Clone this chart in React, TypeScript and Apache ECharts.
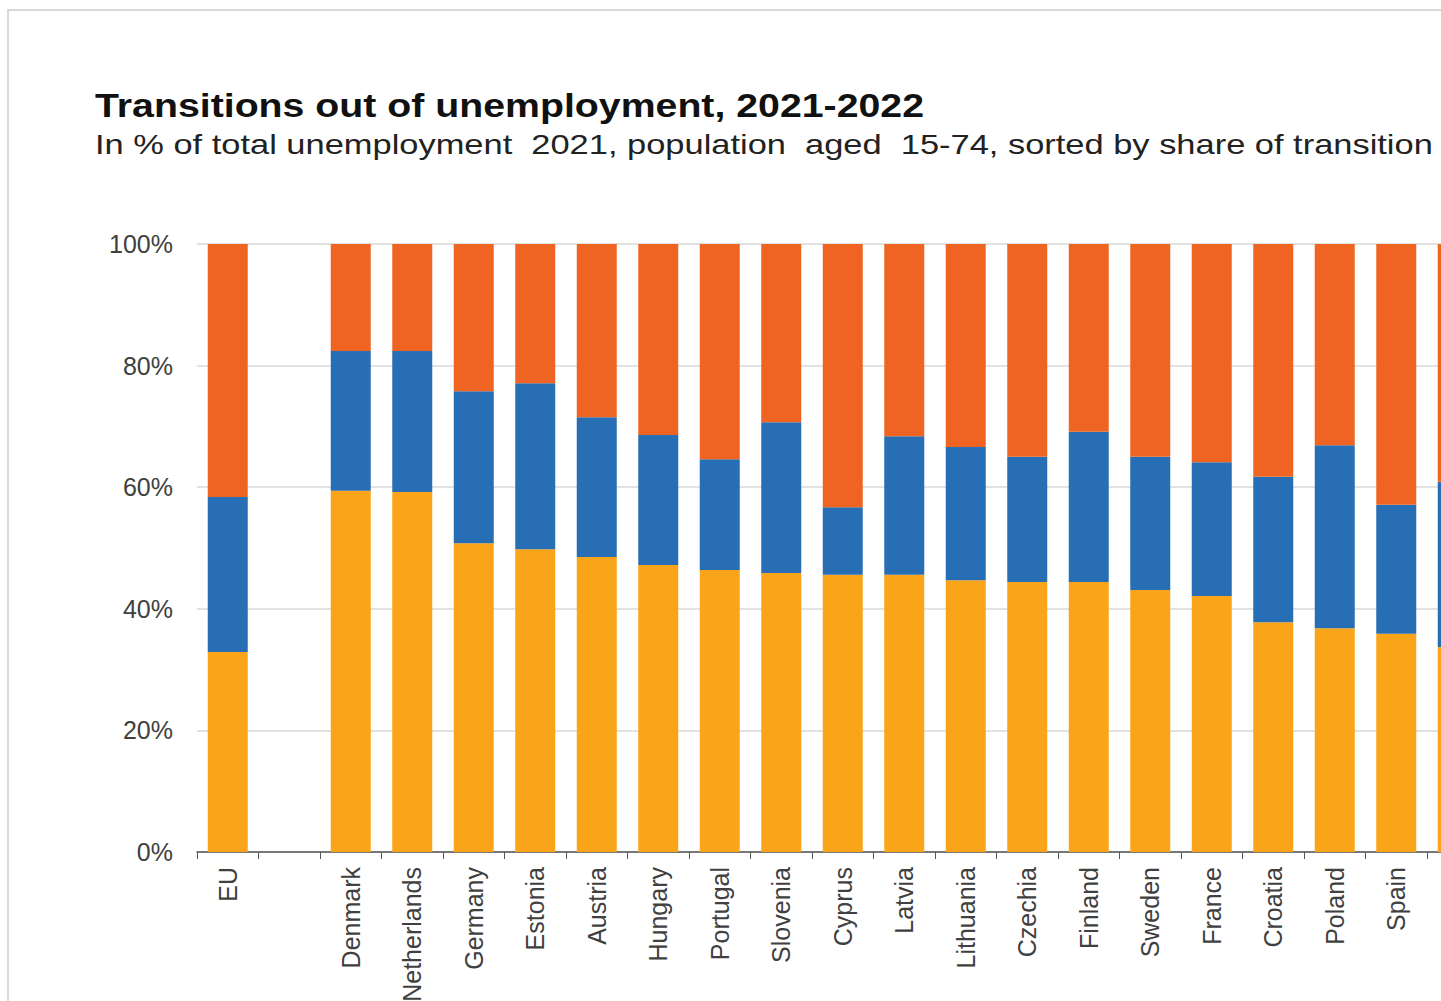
import React, { useEffect, useRef } from "react";
import * as echarts from "echarts";

const categories = ["EU", "", "Denmark", "Netherlands", "Germany", "Estonia", "Austria", "Hungary", "Portugal", "Slovenia", "Cyprus", "Latvia", "Lithuania", "Czechia", "Finland", "Sweden", "France", "Croatia", "Poland", "Spain", ""];
const toEmployment = [32.9, null, 59.4, 59.2, 50.8, 49.8, 48.5, 47.2, 46.4, 45.9, 45.6, 45.6, 44.7, 44.4, 44.4, 43.1, 42.1, 37.8, 36.8, 35.9, 33.7];
const toInactivity = [25.5, null, 23.0, 23.2, 25.0, 27.3, 23.0, 21.4, 18.2, 24.8, 11.1, 22.8, 21.9, 20.6, 24.7, 21.9, 22.0, 23.9, 30.1, 21.2, 27.2];
const remainedUnemployed = [41.6, null, 17.6, 17.6, 24.2, 22.9, 28.5, 31.4, 35.4, 29.3, 43.3, 31.6, 33.4, 35.0, 30.9, 35.0, 35.9, 38.3, 33.1, 42.9, 39.1];

const titleText = "Transitions out of unemployment, 2021-2022";
const subtitleText = "In % of total unemployment  2021, population  aged  15-74, sorted by share of transition";

const FONT = "'Liberation Sans', Arial, Helvetica, sans-serif";
const COLORS = { employment: "#FAA519", inactivity: "#286EB4", unemployed: "#F06423" };

export default function App() {
  const ref = useRef<HTMLDivElement>(null);
  useEffect(() => {
    if (!ref.current) return;
    const chart = echarts.init(ref.current, undefined, { renderer: "svg" });
    const barStyle = (name: string, data: (number | null)[], color: string) => ({
      name,
      type: "bar",
      stack: "total",
      data,
      barWidth: 40,
      itemStyle: { color },
      emphasis: { disabled: true },
    });
    chart.setOption({
      animation: false,
      backgroundColor: "#ffffff",
      textStyle: { fontFamily: FONT },
      graphic: [
        {
          type: "rect",
          silent: true,
          shape: { x: 8, y: 10, width: 3000, height: 3000 },
          style: { fill: "none", stroke: "#d9d9d9", lineWidth: 2 },
        },
        {
          type: "text",
          x: 95,
          y: 88,
          scaleX: 1.155,
          style: {
            text: titleText,
            fontSize: 34,
            fontWeight: "bold",
            fontFamily: FONT,
            fill: "#111111",
            textAlign: "left",
            textVerticalAlign: "top",
          },
        },
        {
          type: "text",
          x: 95,
          y: 131,
          scaleX: 1.23,
          style: {
            text: subtitleText,
            fontSize: 28,
            fontFamily: FONT,
            fill: "#222222",
            textAlign: "left",
            textVerticalAlign: "top",
          },
        },
      ],
      grid: {
        left: 197,
        right: 11.5,
        top: 244,
        bottom: 149,
        containLabel: false,
        outerBoundsMode: "none",
      },
      xAxis: {
        type: "category",
        data: categories,
        boundaryGap: true,
        axisLine: { show: true, lineStyle: { color: "#555555", width: 1.5 } },
        axisTick: { show: true, interval: 0, length: 7, alignWithLabel: false, lineStyle: { color: "#555555" } },
        axisLabel: {
          interval: 0,
          rotate: 90,
          margin: 15,
          fontSize: 25,
          color: "#404040",
          fontFamily: FONT,
        },
        splitLine: { show: false },
      },
      yAxis: {
        type: "value",
        min: 0,
        max: 100,
        interval: 20,
        axisLine: { show: false },
        axisTick: { show: false },
        axisLabel: {
          formatter: "{value}%",
          fontSize: 25,
          margin: 24,
          color: "#404040",
          fontFamily: FONT,
        },
        splitLine: { show: true, lineStyle: { color: "#d9d9d9", width: 1.5 } },
      },
      series: [
        barStyle("Employment", toEmployment, COLORS.employment),
        barStyle("Inactivity", toInactivity, COLORS.inactivity),
        barStyle("Unemployment", remainedUnemployed, COLORS.unemployed),
      ],
    });
    return () => chart.dispose();
  }, []);
  return (
    <div
      style={{
        position: "fixed",
        left: 0,
        top: 0,
        width: 1441,
        height: 1001,
        overflow: "hidden",
        background: "#ffffff",
      }}
    >
      <div ref={ref} style={{ position: "absolute", left: 0, top: 0, width: 1500, height: 1001 }} />
    </div>
  );
}
